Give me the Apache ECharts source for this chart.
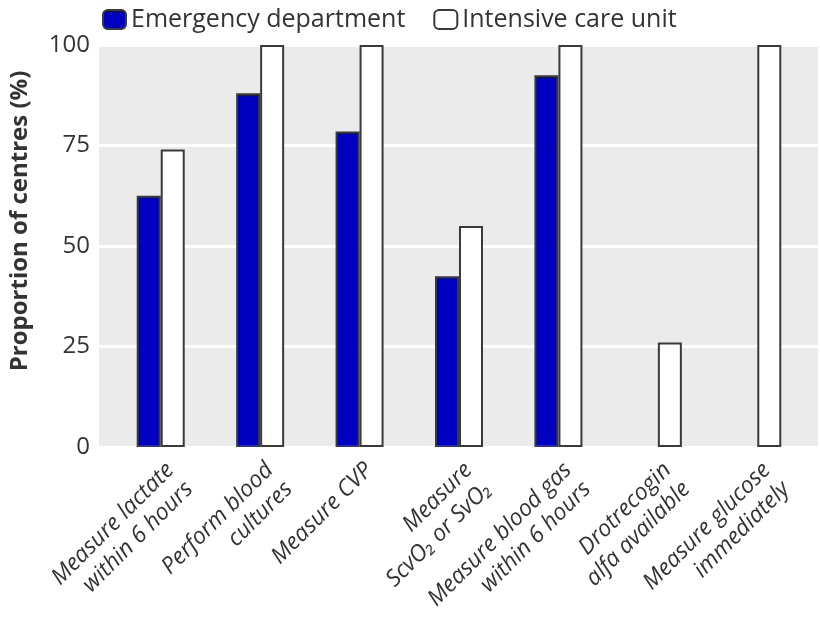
<!DOCTYPE html>
<html>
<head>
<meta charset="utf-8">
<style>html,body{margin:0;padding:0;background:#fff;}#chart{width:820px;height:624px;}</style>
<script src="https://cdn.jsdelivr.net/npm/echarts@6/dist/echarts.min.js"></script>
</head>
<body>
<div id="chart"></div>
<script>
const categories = [
  'Measure lactate\nwithin 6 hours',
  'Perform blood\ncultures',
  'Measure CVP',
  'Measure\nScvO₂ or SvO₂',
  'Measure blood gas\nwithin 6 hours',
  'Drotrecogin\nalfa available',
  'Measure glucose\nimmediately'
];
const seriesNames = ['Emergency department', 'Intensive care unit'];
const emergencyDept = [62.5, 88, 78.5, 42.5, 92.5, null, null];
const intensiveCare = [74, 100, 100, 55, 100, 26, 100];
const yTicks = [0, 25, 50, 75, 100];

const FONT = 'Open Sans';
const chart = echarts.init(document.getElementById('chart'));
chart.setOption({
  animation: false,
  textStyle: { fontFamily: FONT },
  legend: {
    left: 97, top: 2,
    itemWidth: 23, itemHeight: 19, itemGap: 28,
    textStyle: { fontSize: 25, color: '#333', fontFamily: FONT },
    data: seriesNames
  },
  grid: [
    { left: 99, right: 2, top: 45, bottom: 177, show: true, backgroundColor: '#ebebeb', borderWidth: 0, containLabel: false, outerBoundsMode: 'none' },
    { left: 111, right: 13, top: 45, bottom: 177, containLabel: false, outerBoundsMode: 'none' }
  ],
  xAxis: [
    { gridIndex: 0, type: 'value', show: false, min: 0, max: 1 },
    {
      gridIndex: 1, type: 'category', data: categories,
      axisLine: { show: false }, axisTick: { show: false },
      axisLabel: { rotate: 45, interval: 0, margin: 10, fontSize: 23, fontStyle: 'italic', color: '#333', lineHeight: 27, verticalAlign: 'top', fontFamily: FONT }
    }
  ],
  yAxis: [
    {
      gridIndex: 0, type: 'value', min: 0, max: 100, interval: 25,
      axisLine: { show: false }, axisTick: { show: false },
      axisLabel: { fontSize: 24, color: '#333', margin: 9, fontFamily: FONT,
        formatter: v => yTicks.includes(v) ? String(v) : '' },
      splitLine: { show: true, lineStyle: { color: '#ffffff', width: 3 } },
      name: 'Proportion of centres (%)', nameLocation: 'middle', nameGap: 67,
      nameTextStyle: { fontSize: 24, fontWeight: 'bold', color: '#333', fontFamily: FONT, padding: [0, 0, 0, 50] }
    },
    { gridIndex: 1, type: 'value', min: 0, max: 100, show: false }
  ],
  series: [
    {
      name: seriesNames[0], type: 'bar', xAxisIndex: 1, yAxisIndex: 1,
      data: emergencyDept, barWidth: 24, barGap: '0%',
      itemStyle: { color: '#0000c0', borderColor: '#3a3a3a', borderWidth: 2 }
    },
    {
      name: seriesNames[1], type: 'bar', xAxisIndex: 1, yAxisIndex: 1,
      data: intensiveCare, barWidth: 24, barGap: '0%',
      itemStyle: { color: '#ffffff', borderColor: '#3a3a3a', borderWidth: 2 }
    }
  ]
});
</script>
</body>
</html>
